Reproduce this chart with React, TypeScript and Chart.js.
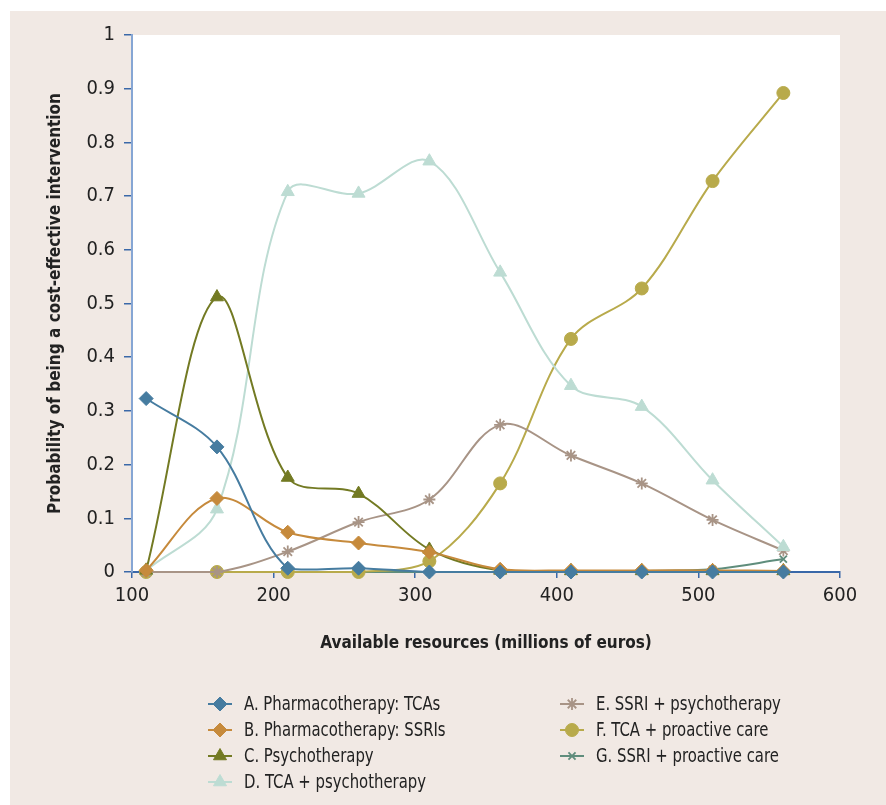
import React, { useEffect, useRef } from 'react';
import { Chart, registerables } from 'chart.js';
import { drawPoint } from 'chart.js/helpers';

Chart.register(...registerables);

const xValues = [110, 160, 210, 260, 310, 360, 410, 460, 510, 560];
const seriesA = [0.323, 0.233, 0.007, 0.007, 0.0, 0.0, 0.0, 0.0, 0.0, 0.0];
const seriesB = [0.003, 0.137, 0.074, 0.054, 0.037, 0.005, 0.003, 0.003, 0.003, 0.002];
const seriesC = [0.003, 0.512, 0.176, 0.146, 0.042, 0.003, 0.002, 0.002, 0.002, 0.002];
const seriesD = [0.003, 0.117, 0.708, 0.705, 0.765, 0.558, 0.347, 0.308, 0.171, 0.047];
const seriesE = [0.0, 0.0, 0.038, 0.093, 0.135, 0.274, 0.217, 0.165, 0.097, 0.04];
const seriesF = [0.0, 0.0, 0.0, 0.0, 0.02, 0.165, 0.434, 0.528, 0.728, 0.892];
const seriesG = [0.0, 0.0, 0.0, 0.0, 0.0, 0.0, 0.0, 0.002, 0.005, 0.024];

const seriesNames = [
  'A. Pharmacotherapy: TCAs',
  'B. Pharmacotherapy: SSRIs',
  'C. Psychotherapy',
  'D. TCA + psychotherapy',
  'E. SSRI + psychotherapy',
  'F. TCA + proactive care',
  'G. SSRI + proactive care',
];
const seriesColors = ['#467ca0', '#c68a3c', '#737a23', '#bddcd3', '#a89486', '#b8aa4b', '#5f8d7c'];
const seriesMarkers = ['rectRot', 'rectRot', 'triangle', 'triangle', 'star', 'circle', 'crossRot'];
const seriesMarkerSizes = [7, 7, 7.5, 7.5, 6, 6.5, 5];

const xTitle = 'Available resources (millions of euros)';
const yTitle = 'Probability of being a cost-effective intervention';

const FONT = "'Liberation Sans Narrow', 'DejaVu Sans Condensed', 'Roboto Condensed', 'Noto Sans', sans-serif";
const BG = '#f1e9e4';

const allSeries = [seriesA, seriesB, seriesC, seriesD, seriesE, seriesF, seriesG];

const legendPlugin = {
  id: 'twoColumnLegend',
  afterDraw(chart: any) {
    const ctx = chart.ctx as CanvasRenderingContext2D;
    ctx.save();
    chart.data.datasets.forEach((ds: any, i: number) => {
      const col = i < 4 ? 0 : 1;
      const row = i < 4 ? i : i - 4;
      const cx = col === 0 ? 210 : 562;
      const cy = 693 + row * 26;
      ctx.strokeStyle = ds.borderColor;
      ctx.lineWidth = 2;
      ctx.beginPath();
      ctx.moveTo(cx - 12, cy);
      ctx.lineTo(cx + 12, cy);
      ctx.stroke();
      ctx.fillStyle = ds.pointBackgroundColor;
      ctx.strokeStyle = ds.pointBorderColor;
      ctx.lineWidth = ds.pointBorderWidth;
      drawPoint(ctx, { pointStyle: ds.pointStyle, radius: ds.pointRadius, borderWidth: ds.pointBorderWidth, rotation: 0 } as any, cx, cy);
      ctx.save();
      ctx.translate(cx + 24, cy + 1);
      ctx.scale(0.87, 1);
      ctx.fillStyle = '#222222';
      ctx.font = `19px ${FONT}`;
      ctx.textBaseline = 'middle';
      ctx.textAlign = 'left';
      ctx.fillText(ds.label, 0, 0);
      ctx.restore();
    });
    ctx.restore();
  },
};

export default function App() {
  const ref = useRef<HTMLCanvasElement | null>(null);
  useEffect(() => {
    if (!ref.current) return;
    const datasets = allSeries.map((s, i) => ({
      label: seriesNames[i],
      data: s.map((v, j) => ({ x: xValues[j], y: v })),
      borderColor: seriesColors[i],
      backgroundColor: seriesColors[i],
      pointBackgroundColor: seriesColors[i],
      pointBorderColor: seriesColors[i],
      pointBorderWidth: seriesMarkers[i] === 'star' || seriesMarkers[i] === 'crossRot' ? 1.8 : 1,
      pointStyle: seriesMarkers[i],
      pointRadius: seriesMarkerSizes[i],
      borderWidth: 2,
      tension: 0.35,
      fill: false,
      clip: false as any,
    }));
    const chart = new Chart(ref.current, {
      type: 'line',
      data: { datasets },
      plugins: [legendPlugin],
      options: {
        animation: false,
        responsive: false,
        devicePixelRatio: 1,
        events: [],
        layout: { padding: { left: 0, top: 24, right: 46, bottom: 143 } },
        plugins: { legend: { display: false }, tooltip: { enabled: false } },
        scales: {
          x: {
            type: 'linear',
            min: 100,
            max: 600,
            afterFit: (scale: any) => { scale.height = 90; },
            ticks: { stepSize: 100, color: '#222222', font: { family: FONT, size: 20 }, padding: 6 },
            grid: { drawOnChartArea: false, drawTicks: true, tickLength: 6, color: '#3a68a8', lineWidth: 1.5 },
            border: { display: true, color: '#3a68a8', width: 2 },
            title: { display: true, text: xTitle, color: '#222222', font: { family: FONT, size: 17, weight: 'bold' }, padding: { top: 0, bottom: 8 } },
          },
          y: {
            type: 'linear',
            min: 0,
            max: 1,
            afterFit: (scale: any) => { scale.width = 122; },
            ticks: {
              stepSize: 0.1,
              color: '#222222',
              font: { family: FONT, size: 20 },
              padding: 9,
              callback: (v: any) => String(Math.round(Number(v) * 10) / 10),
            },
            grid: { drawOnChartArea: false, drawTicks: true, tickLength: 8, color: '#3a68a8', lineWidth: 1.5 },
            border: { display: true, color: '#86a6d4', width: 2 },
            title: { display: true, text: yTitle, color: '#222222', font: { family: FONT, size: 17, weight: 'bold' }, padding: { top: 35, bottom: 0 } },
          },
        },
      },
    });
    return () => chart.destroy();
  }, []);
  return (
    <div style={{ position: 'absolute', left: 10, top: 11, width: 876, height: 794, background: BG }}>
      <div style={{ position: 'absolute', left: 122, top: 24, width: 708, height: 537, background: '#ffffff' }} />
      <canvas ref={ref} width={876} height={794} style={{ position: 'absolute', left: 0, top: 0, display: 'block' }} />
    </div>
  );
}
